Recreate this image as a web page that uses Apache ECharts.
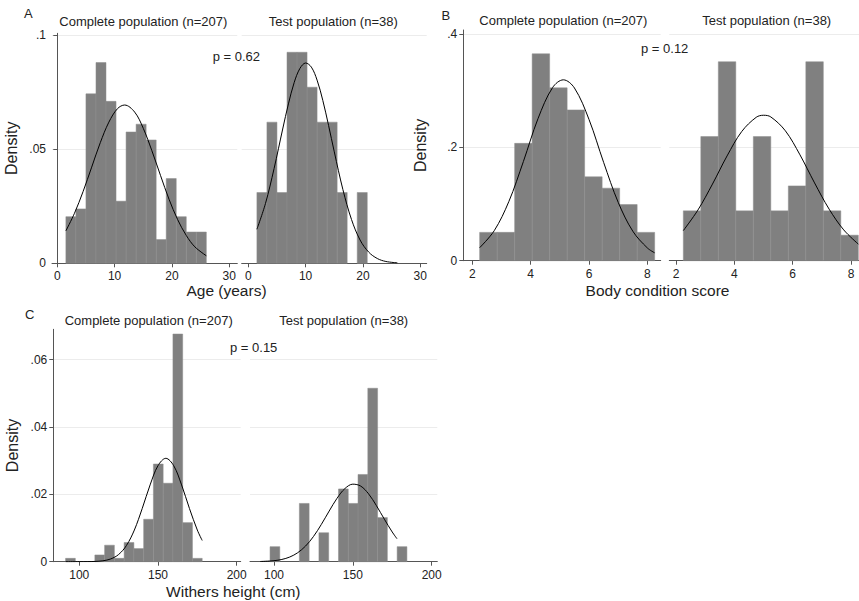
<!DOCTYPE html>
<html>
<head>
<meta charset="utf-8">
<script src="https://cdn.jsdelivr.net/npm/echarts@6/dist/echarts.min.js"></script>
<style>
html,body{margin:0;padding:0;background:#fff;}
#chart{width:859px;height:601px;}
</style>
</head>
<body>
<div id="chart"></div>
<script>
// ---------- DATA ----------
const titleComplete = 'Complete population (n=207)';
const titleTest = 'Test population (n=38)';

// Panel A: Age (years)
const ageEdges = [1.5, 3.25, 5, 6.75, 8.5, 10.25, 12, 13.75, 15.5, 17.25, 19, 20.75, 22.5, 24.25, 26];
const ageDensityComplete = [0.0204, 0.0238, 0.0742, 0.0879, 0.0709, 0.0272, 0.0575, 0.0609, 0.054, 0.0104, 0.0371, 0.0204, 0.0137, 0.0137];
const ageDensityTest = [0.031, 0.0618, 0.031, 0.0924, 0.0924, 0.0771, 0.0618, 0.0618, 0.031, 0, 0.031];
const ageCurveComplete = [[1.5,0.0142],[3,0.0219],[4.5,0.0314],[6,0.0421],[7.5,0.0528],[9,0.0618],[10.5,0.0677],[11.75,0.0693],[13.5,0.0662],[15,0.0591],[16.5,0.0493],[18,0.0385],[19.5,0.028],[21,0.0191],[22.5,0.0122],[24,0.0072],[26,0.0033]];
const ageCurveTest = [[1.5,0.0149],[3,0.0262],[4.5,0.0415],[6,0.0588],[7,0.0698],[8,0.0791],[9,0.0853],[10,0.0877],[11,0.0859],[12,0.0802],[13,0.0713],[14,0.0604],[15,0.0488],[16.5,0.0323],[18,0.0192],[19.5,0.0102],[21,0.0049],[22.5,0.0021],[24,0.0008],[26,0.0002]];
const ageTicks = [0, 10, 20, 30];
const densityTicksA = [0, 0.05, 0.1];

// Panel B: Body condition score
const bcsEdges = [2.25, 2.85, 3.45, 4.05, 4.65, 5.25, 5.85, 6.45, 7.05, 7.65, 8.25];
const bcsDensityComplete = [0.05, 0.05, 0.207, 0.365, 0.305, 0.266, 0.148, 0.128, 0.099, 0.05];
const bcsDensityTest = [0.088, 0.219, 0.351, 0.088, 0.219, 0.088, 0.132, 0.351, 0.088, 0.045];
const bcsCurveComplete = [[2.25,0.0229],[2.75,0.0529],[3.25,0.1042],[3.75,0.175],[4.25,0.2505],[4.75,0.3054],[5.12,0.3191],[5.5,0.3047],[6,0.2491],[6.5,0.1735],[7,0.103],[7.5,0.0521],[8,0.0225],[8.25,0.0139]];
const bcsCurveTest = [[2.25,0.0531],[2.75,0.0893],[3.25,0.1352],[3.75,0.1848],[4.25,0.2277],[4.75,0.253],[5,0.2566],[5.25,0.2536],[5.75,0.2291],[6.25,0.1867],[6.75,0.1372],[7.25,0.0909],[7.75,0.0543],[8.25,0.0293]];
const bcsTicks = [2, 4, 6, 8];
const densityTicksB = [0, 0.2, 0.4];

// Panel C: Withers height (cm)
const heightEdgesComplete = [91.3, 97.5, 103.7, 109.9, 116.1, 122.3, 128.5, 134.7, 140.9, 147.1, 153.3, 159.5, 165.7, 171.9, 178.1];
const heightDensityComplete = [0.001, 0, 0, 0.002, 0.0049, 0.001, 0.0057, 0.0039, 0.0126, 0.029, 0.0233, 0.0676, 0.0116, 0.001];
const heightEdgesTest = [97.5, 103.7, 109.9, 116.1, 122.3, 128.5, 134.7, 140.9, 147.1, 153.3, 159.5, 165.7, 171.9, 178.1, 184.3];
const heightDensityTest = [0.00446, 0, 0, 0.0173, 0, 0.0086, 0, 0.0216, 0.0173, 0.0259, 0.0515, 0.0131, 0, 0.00446];
const heightCurveComplete = [[91.3,0],[100,0.00001],[105,0.00002],[110,0.00008],[115,0.00027],[120,0.00082],[125,0.00214],[130,0.00483],[135,0.0094],[140,0.0158],[145,0.0228],[150,0.0285],[155,0.0307],[160,0.0285],[165,0.0228],[170,0.0158],[175,0.0094],[178.1,0.0063]];
const heightCurveTest = [[91.3,0.00006],[100,0.0003],[105,0.00067],[110,0.00139],[115,0.00265],[120,0.00463],[125,0.00745],[130,0.01104],[135,0.01503],[140,0.01884],[145,0.02172],[150,0.02302],[155,0.02245],[160,0.02014],[165,0.01662],[170,0.01262],[175,0.00881],[178,0.00682]];
const heightTicks = [100, 150, 200];
const densityTicksC = [0, 0.02, 0.04, 0.06];

// ---------- CHART ----------
const FONT = '"Liberation Sans", Arial, sans-serif';
const AXIS_COLOR = '#555';
const TEXT_COLOR = '#222';
const BAR_FILL = '#808080';
const BAR_EDGE = '#8c8c8c';

function fmtDensity(v) {
  if (v === 0) return '0';
  return String(+v.toFixed(4)).replace(/^0\./, '.');
}

const grids = [
  {left: 52,    top: 33.3,  width: 185.3, height: 230},   // A complete
  {left: 241.7, top: 33.3,  width: 185,   height: 230},   // A test
  {left: 463.3, top: 30,    width: 197.4, height: 230.7}, // B complete
  {left: 669.3, top: 30,    width: 189.7, height: 230.7}, // B test
  {left: 53.3,  top: 329.3, width: 187.4, height: 232.4}, // C complete
  {left: 250,   top: 329.3, width: 187.3, height: 232.4}  // C test
];
const xRanges = [[-0.92, 31.4], [-1.15, 31.12], [1.69, 8.457], [1.77, 8.273], [83.5, 202.56], [84.8, 203.57]];
const xTickSets = [ageTicks, ageTicks, bcsTicks, bcsTicks, heightTicks, heightTicks];
const yMax = [0.1007, 0.1007, 0.407, 0.407, 0.069, 0.069];
const yTickSets = [densityTicksA, densityTicksA, densityTicksB, densityTicksB, densityTicksC, densityTicksC];

const xAxes = grids.map((g, i) => ({
  type: 'value', gridIndex: i, min: xRanges[i][0], max: xRanges[i][1],
  axisLine: {show: true, onZero: false, lineStyle: {color: AXIS_COLOR, width: 1}},
  axisTick: {show: true, length: 4, lineStyle: {color: AXIS_COLOR}, customValues: xTickSets[i]},
  axisLabel: {show: true, customValues: xTickSets[i], margin: 7, color: TEXT_COLOR, fontSize: 12, fontFamily: FONT,
    formatter: v => String(v)},
  splitLine: {show: false}
}));

const yAxes = grids.map((g, i) => {
  const left = (i % 2 === 0);
  return {
    type: 'value', gridIndex: i, min: 0, max: yMax[i],
    axisLine: {show: left, lineStyle: {color: AXIS_COLOR, width: 1}},
    axisTick: {show: left, length: 4, lineStyle: {color: AXIS_COLOR}, customValues: yTickSets[i]},
    axisLabel: {show: left, customValues: yTickSets[i], margin: 6, color: TEXT_COLOR, fontSize: 12, fontFamily: FONT,
      formatter: fmtDensity},
    splitLine: {show: true, lineStyle: {color: '#ececec', width: 1}},
    name: left ? 'Density' : '', nameLocation: 'middle', nameRotate: 90,
    nameGap: [33, 35, 33][i / 2 | 0],
    nameTextStyle: {fontSize: 16, color: TEXT_COLOR, fontFamily: FONT}
  };
});

function histSeries(edges, dens, idx) {
  const data = dens.map((d, i) => [edges[i], edges[i + 1], d]);
  return {
    type: 'custom', xAxisIndex: idx, yAxisIndex: idx, z: 2,
    data: data,
    encode: {x: [0, 1], y: 2},
    renderItem: function (params, api) {
      const h = api.value(2);
      if (!h) return null;
      const p0 = api.coord([api.value(0), h]);
      const p1 = api.coord([api.value(1), 0]);
      return {
        type: 'rect',
        shape: {x: p0[0], y: p0[1], width: p1[0] - p0[0], height: p1[1] - p0[1]},
        style: {fill: BAR_FILL, stroke: BAR_EDGE, lineWidth: 0.5}
      };
    }
  };
}
function curveSeries(points, idx) {
  return {
    type: 'line', xAxisIndex: idx, yAxisIndex: idx, z: 5,
    data: points, smooth: 0.35, showSymbol: false, symbol: 'none',
    lineStyle: {color: '#000', width: 1}, silent: true
  };
}

function txt(x, y, text, size, align, rot) {
  return {
    type: 'text', x: x, y: y, rotation: rot || 0, silent: true,
    style: {text: text, fill: TEXT_COLOR, font: size + 'px ' + FONT, textAlign: align || 'center', textVerticalAlign: 'middle'}
  };
}

const option = {
  animation: false,
  backgroundColor: '#fff',
  grid: grids.map(g => Object.assign({containLabel: false}, g)),
  xAxis: xAxes,
  yAxis: yAxes,
  series: [
    histSeries(ageEdges, ageDensityComplete, 0), curveSeries(ageCurveComplete, 0),
    histSeries(ageEdges.slice(0, ageDensityTest.length + 1), ageDensityTest, 1), curveSeries(ageCurveTest, 1),
    histSeries(bcsEdges, bcsDensityComplete, 2), curveSeries(bcsCurveComplete, 2),
    histSeries(bcsEdges, bcsDensityTest, 3), curveSeries(bcsCurveTest, 3),
    histSeries(heightEdgesComplete, heightDensityComplete, 4), curveSeries(heightCurveComplete, 4),
    histSeries(heightEdgesTest, heightDensityTest, 5), curveSeries(heightCurveTest, 5)
  ],
  graphic: [
    txt(28.3, 13.7, 'A', 13),
    txt(445.8, 15, 'B', 13),
    txt(29.7, 314.5, 'C', 13),
    txt(143.3, 21.7, titleComplete, 13),
    txt(333.3, 21.7, titleTest, 13),
    txt(563.3, 20.7, titleComplete, 13),
    txt(766.7, 20.7, titleTest, 13),
    txt(148.7, 320.7, titleComplete, 13),
    txt(343.7, 320.7, titleTest, 13),
    txt(212.7, 56, 'p = 0.62', 13, 'left'),
    txt(641, 48.3, 'p = 0.12', 13, 'left'),
    txt(230, 347.3, 'p = 0.15', 13, 'left'),
    txt(226.5, 290.5, 'Age (years)', 15.5),
    txt(657.5, 290, 'Body condition score', 15.5),
    txt(233.3, 591, 'Withers height (cm)', 15.5)
  ]
};

const chart = echarts.init(document.getElementById('chart'), null, {renderer: 'svg', width: 859, height: 601});
chart.setOption(option);
</script>
</body>
</html>
